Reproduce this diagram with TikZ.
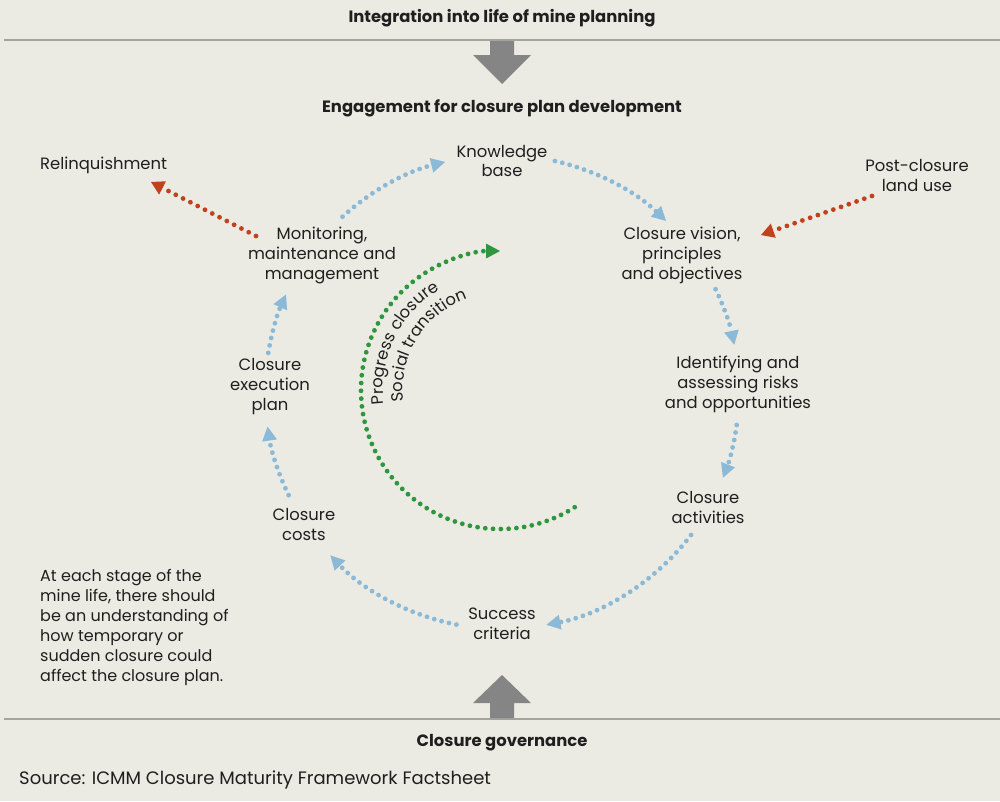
\documentclass[tikz,border=0pt]{standalone}
\usepackage{fontspec}
\setmainfont{Poppins}
\usetikzlibrary{arrows.meta,calc,decorations.text}
\definecolor{bg}{HTML}{EBEBE3}
\definecolor{rule}{HTML}{A3A59C}
\definecolor{ink}{HTML}{1F1F1F}
\definecolor{bigarrow}{HTML}{858585}
\definecolor{cblue}{HTML}{8ABAD7}
\definecolor{cred}{HTML}{C1411E}
\definecolor{cgreen}{HTML}{2E963C}
\newcommand{\lblfont}{\fontsize{16.4}{20}\selectfont}
\newcommand{\notefont}{\fontsize{16}{20}\selectfont}
\newcommand{\srcfont}{\fontsize{18}{20}\selectfont}
\begin{document}
\begin{tikzpicture}[x=1pt,y=1pt,
  lbl/.style={font=\lblfont, text=ink, align=center, inner sep=0pt},
  head/.style={font=\lblfont\bfseries, text=ink, inner sep=0pt},
  dotline/.style={line width=4.8pt, line cap=round, dash pattern=on 0pt off 7.6pt},
  flow/.style={dotline, draw=cblue, -{Triangle[length=14pt,width=15pt,line width=0pt]}, looseness=0.87},
  link/.style={dotline, draw=cred, dash pattern=on 0pt off 8.2pt, -{Triangle[length=13pt,width=15pt,line width=0pt]}},
  growth/.style={dotline, draw=cgreen, dash pattern=on 0pt off 7.8pt, -{Triangle[length=14pt,width=15pt,line width=0pt]}},
  arclabel/.style={decorate, decoration={text along path, text color=ink, text align=left}}
]
% page and bands
\fill[bg] (0,0) rectangle (1000,-801);
\useasboundingbox (0,0) rectangle (1000,-801);
\draw[rule, line width=2pt] (4,-40) -- (1000,-40);
\draw[rule, line width=2pt] (4,-719) -- (1000,-719);

% headings
\node[head] (htop) at (502,-18) {Integration into life of mine planning};
\node[head] (heng) at (502,-108) {Engagement for closure plan development};
\node[head] (hgov) at (502,-743) {Closure governance};
\node[lbl, font=\srcfont, anchor=west] (src) at (19,-780) {Source: ICMM Closure Maturity Framework Factsheet};

% block arrows between the bands
\fill[bigarrow] (490,-41) -- (514,-41) -- (514,-55) -- (531,-55) -- (502,-84)
  -- (473,-55) -- (490,-55) -- cycle;
\fill[bigarrow] (490,-718) -- (514,-718) -- (514,-703) -- (531,-703) -- (502,-675)
  -- (473,-703) -- (490,-703) -- cycle;

% cycle stages
\node[lbl] (know)   at (502,-161) {Knowledge\\base};
\node[lbl] (vision) at (682,-255) {Closure vision,\\principles\\and objectives};
\node[lbl] (risk)   at (738,-384) {Identifying and\\assessing risks\\and opportunities};
\node[lbl] (act)    at (708,-507) {Closure\\activities};
\node[lbl] (succ)   at (502,-624) {Success\\criteria};
\node[lbl] (costs)  at (304,-524) {Closure\\costs};
\node[lbl] (exec)   at (270,-387) {Closure\\execution\\plan};
\node[lbl] (mon)    at (322,-255) {Monitoring,\\maintenance and\\management};

% outer labels
\node[lbl, anchor=west] (relinq) at (40,-165) {Relinquishment};
\node[lbl] (post) at (917,-175) {Post-closure\\land use};
\node[lbl, font=\notefont, anchor=west, align=left] (note) at (40,-627)
  {At each stage of the\\mine life, there should\\be an understanding of\\how temporary or\\sudden closure could\\affect the closure plan.};

% centre of the stage cycle and of the inner arc
\coordinate (hub) at (502,-392);
\coordinate (inner) at (500,-390);

% end points of the cycle connectors on the ring
\foreach \n/\a in {m1/132.3, k1/103.9, k2/77.1, v1/46.2, v2/25.7, r1/11.5,
                   r2/-8.0, a1/-21.2, a2/-37.1, s1/-79.2, s2/-101.1, c1/-136.4,
                   c2/-154.2, e1/-171.6, e2/170.5, m2/155.7}
  \coordinate (\n) at ($(hub)+(\a:237)$);

\draw[flow] (m1) to[bend left=14.2] (k1);
\draw[flow] (k2) to[bend left=15.5] (v1);
\draw[flow] (v2) to[bend left=7.1]  (r1);
\draw[flow] (r2) to[bend left=6.6]  (a1);
\draw[flow] (a2) to[bend left=21]   (s1);
\draw[flow] (s2) to[bend left=17.6] (c1);
\draw[flow] (c2) to[bend left=8.7]  (e1);
\draw[flow] (e2) to[bend left=7.4]  (m2);

% links to the outer labels
\coordinate (mon-out) at (256,-236);
\coordinate (relinq-in) at (151,-182);
\coordinate (post-out) at (872,-196);
\coordinate (vision-in) at (761,-235);
\draw[link] (mon-out) -- (relinq-in);
\draw[link] (post-out) -- (vision-in);

% inner progress arc with its curved labels
\coordinate (g0) at ($(inner)+(-57.5:139)$);
\draw[growth] (g0) arc[start angle=-57.5, end angle=-270, radius=139];
\path[arclabel, decoration={text={|\lblfont|Progress closure}}]
  ($(inner)+(187:117)$) arc[start angle=187, end angle=90, radius=117];
\path[arclabel, decoration={text={|\lblfont|Social transition}}]
  ($(inner)+(187:97)$) arc[start angle=187, end angle=70, radius=97];
\end{tikzpicture}
\end{document}
